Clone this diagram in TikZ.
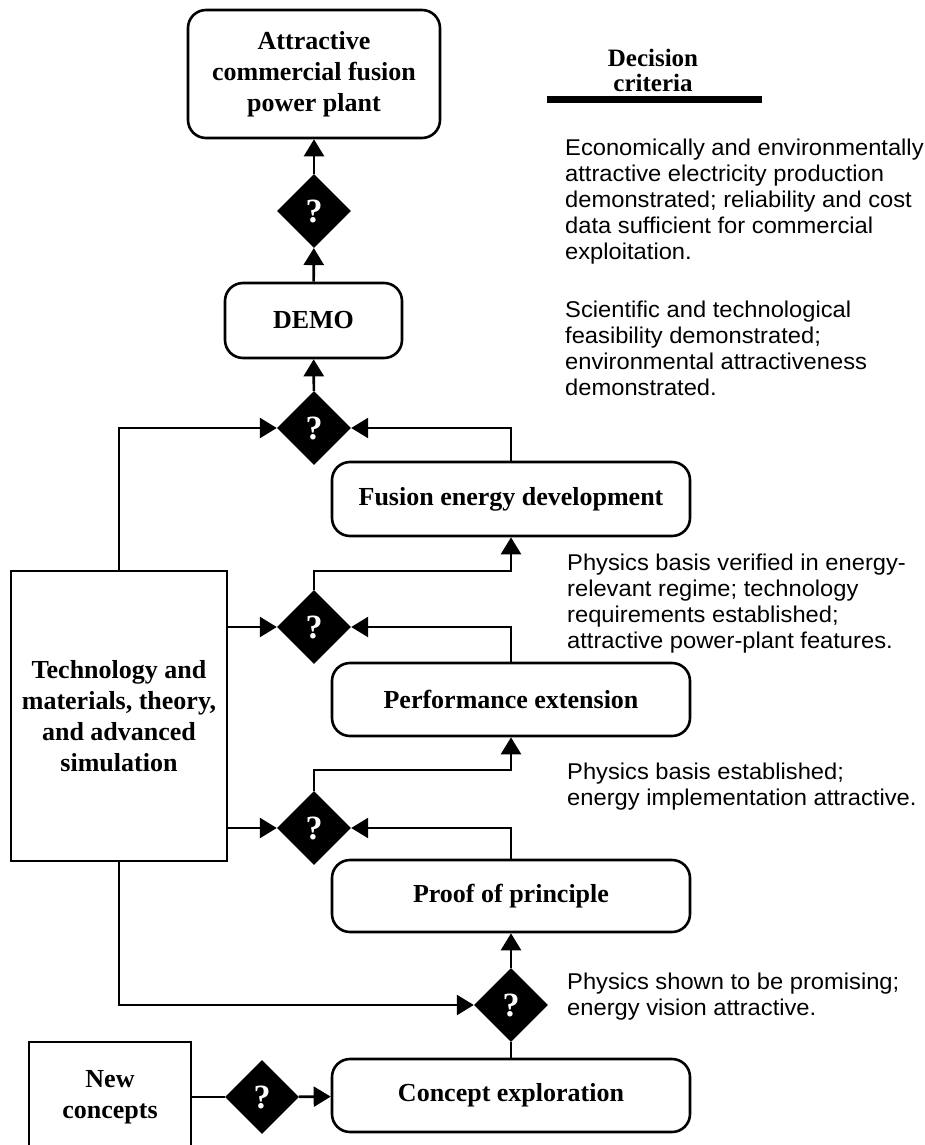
\documentclass[tikz,border=0pt]{standalone}
\usepackage{fontspec}
\setmainfont{Liberation Serif}
\newfontfamily\critfont[FakeStretch=1.04]{Liberation Sans}
\usetikzlibrary{shapes.geometric,arrows.meta}

\begin{document}
\begin{tikzpicture}[x=1pt, y=-1pt,
    stage/.style={draw, line width=2.6pt, rounded corners=18pt, align=center, minimum width=358pt, minimum height=73pt, font=\bfseries\fontsize{26}{31}\selectfont},
    plainbox/.style={draw, line width=2.6pt, align=center, font=\bfseries\fontsize{26}{31}\selectfont},
    gate/.style={diamond, fill=black, minimum width=74pt, minimum height=74pt, inner sep=0pt, text=white, font=\bfseries\fontsize{34}{34}\selectfont},
    crit/.style={anchor=north west, inner sep=0pt, align=left, font=\critfont\fontsize{22.8}{26}\selectfont},
    flow/.style={line width=2.6pt},
    arr/.style={flow, -{Triangle[length=17pt, width=20pt]}}]
    \useasboundingbox (0,0) rectangle (925,1145);
    % Goal and DEMO
    \node[stage, minimum width=252pt, minimum height=128pt] (plant) at (314,74) {Attractive\\commercial fusion\\power plant};
    \node[gate] (q1) at (314,211) {?};
    \node[stage, minimum width=177pt, minimum height=75pt] (demo) at (313.5,320.5) {DEMO};
    \node[gate] (q2) at (314,428) {?};
    % Development stages
    \node[stage, minimum height=74pt] (fusion) at (511,499) {Fusion energy development};
    \node[gate] (q3) at (314,627) {?};
    \node[stage] (perf) at (511,699.5) {Performance extension};
    \node[gate] (q4) at (314,828) {?};
    \node[stage, minimum height=72pt] (proof) at (511,896) {Proof of principle};
    \node[gate] (q5) at (511,1005) {?};
    \node[stage] (concept) at (511,1095.5) {Concept exploration};
    % Side boxes
    \node[plainbox, minimum width=216pt, minimum height=290pt] (tech) at (119,716) {Technology and\\materials, theory,\\and advanced\\simulation};
    \node[plainbox, minimum width=162pt, minimum height=110pt] (newc) at (110,1097) {New\\concepts};
    \node[gate] (q6) at (262,1097) {?};
    % Main line upward
    \draw[arr] (q1) -- (plant);
    \draw[arr] (demo) -- (q1);
    \draw[arr] (q2) -- (demo);
    \draw[arr] (fusion.north) |- (q2.east);
    \draw[arr] (q3.north) -- ++(0,-19) -| (fusion.south);
    \draw[arr] (perf.north) |- (q3.east);
    \draw[arr] (q4.north) -- ++(0,-21) -| (perf.south);
    \draw[arr] (proof.north) |- (q4.east);
    \draw[arr] (q5) -- (proof);
    \draw[flow] (concept) -- (q5);
    % Support from technology
    \draw[arr] (tech.north) |- (q2.west);
    \draw[arr] (tech.east |- q3) -- (q3.west);
    \draw[arr] (tech.east |- q4) -- (q4.west);
    \draw[arr] (tech.south) |- (q5.west);
    % New concepts
    \draw[flow] (newc) -- (q6);
    \draw[arr] (q6) -- (concept);
    % Decision criteria
    \node[align=center, font=\bfseries\fontsize{25}{25}\selectfont] (head) at (653,70) {Decision\\criteria};
    \draw[line width=7pt] (547,100) -- (762,100);
    \node[crit] (c1) at (565,139) {Economically and environmentally\\attractive electricity production\\demonstrated; reliability and cost\\data sufficient for commercial\\exploitation.};
    \node[crit] (c2) at (565,301) {Scientific and technological\\feasibility demonstrated;\\environmental attractiveness\\demonstrated.};
    \node[crit] (c3) at (567,554) {Physics basis verified in energy-\\relevant regime; technology\\requirements established;\\attractive power-plant features.};
    \node[crit] (c4) at (567,763) {Physics basis established;\\energy implementation attractive.};
    \node[crit] (c5) at (567,973) {Physics shown to be promising;\\energy vision attractive.};
\end{tikzpicture}
\end{document}
